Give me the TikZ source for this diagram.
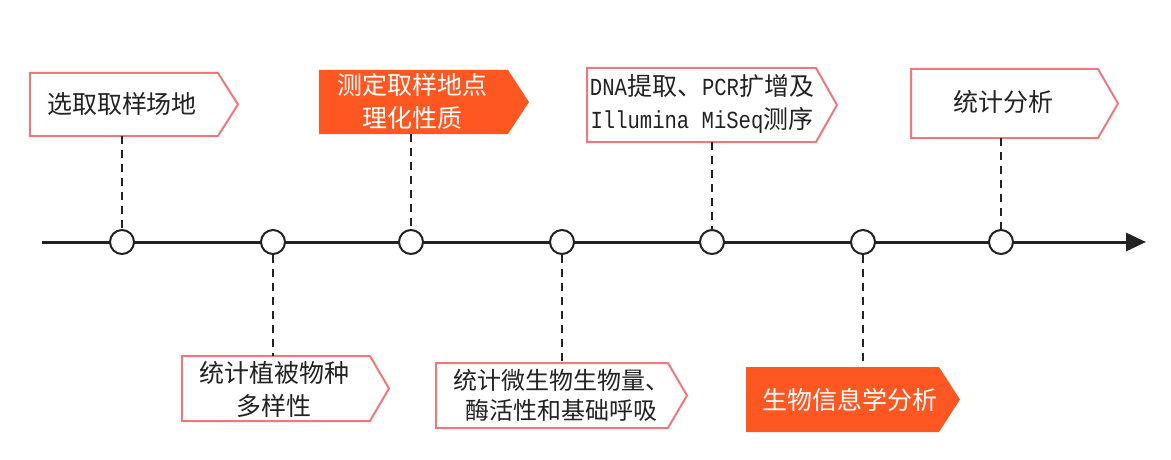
\documentclass[tikz,border=0pt]{standalone}
\usepackage{fontspec}
\newfontfamily\cjk{Noto Sans CJK SC}
\newfontfamily\monof[FakeStretch=0.84]{Liberation Mono}
\newcommand\latmono[1]{{\monof\fontsize{24.5}{33}\selectfont #1}}
\usetikzlibrary{arrows.meta,calc}
\definecolor{pinkline}{RGB}{240,120,125}
\definecolor{orangefill}{RGB}{255,87,34}
\definecolor{inkc}{RGB}{34,34,34}
\begin{document}
\begin{tikzpicture}[x=1pt,y=-1pt,
  frame/.style={draw=none,fill=none,inner sep=0pt,outer sep=0pt},
  txt/.style={font=\cjk\fontsize{25}{33}\selectfont, text=inkc, align=center, inner sep=0pt},
  wtxt/.style={txt, text=white},
  dot/.style={circle, draw=inkc, fill=white, line width=2pt, minimum size=24pt, inner sep=0pt},
  link/.style={draw=inkc, line width=2pt, dash pattern=on 8pt off 6pt},
  outl/.style={draw=pinkline, line width=2pt, fill=white},
  solidbox/.style={fill=orangefill, draw=none}]
\useasboundingbox (0,0) rectangle (1171,460);

% timeline
\coordinate (ts) at (42,242);
\coordinate (te) at (1146,242);
\draw[inkc, line width=3pt, -{Triangle[length=20pt,width=18pt]}] (ts) -- (te);

% box frames
\node[frame, minimum width=188pt, minimum height=63pt] (b1) at (124,104.5) {};
\node[frame, minimum width=188pt, minimum height=65pt] (b2) at (276,388.5) {};
\node[frame, minimum width=189pt, minimum height=64pt] (b3) at (413.5,102) {};
\node[frame, minimum width=229pt, minimum height=74pt] (b4) at (701.5,105) {};
\node[frame, minimum width=232pt, minimum height=65pt] (b5) at (552,395.5) {};
\node[frame, minimum width=193pt, minimum height=65pt] (b6) at (842.5,399.5) {};
\node[frame, minimum width=187pt, minimum height=69pt] (b7) at (1004.5,103.5) {};

\draw[outl] (b1.north west) -- (b1.north east) -- ($(b1.east)+(20,0)$) -- (b1.south east) -- (b1.south west) -- cycle;
\draw[outl] (b2.north west) -- (b2.north east) -- ($(b2.east)+(19,0)$) -- (b2.south east) -- (b2.south west) -- cycle;
\fill[solidbox] (b3.north west) -- (b3.north east) -- ($(b3.east)+(21,0)$) -- (b3.south east) -- (b3.south west) -- cycle;
\draw[outl] (b4.north west) -- (b4.north east) -- ($(b4.east)+(21,0)$) -- (b4.south east) -- (b4.south west) -- cycle;
\draw[outl] (b5.north west) -- (b5.north east) -- ($(b5.east)+(19,0)$) -- (b5.south east) -- (b5.south west) -- cycle;
\fill[solidbox] (b6.north west) -- (b6.north east) -- ($(b6.east)+(21,0)$) -- (b6.south east) -- (b6.south west) -- cycle;
\draw[outl] (b7.north west) -- (b7.north east) -- ($(b7.east)+(20,0)$) -- (b7.south east) -- (b7.south west) -- cycle;

% texts
\node[txt]  (t1) at (122,104) {选取取样场地};
\node[txt]  (t2) at (274,389) {统计植被物种\\多样性};
\node[wtxt] (t3) at (412,101) {测定取样地点\\理化性质};
\node[txt]  (t4) at (702,104.5) {\latmono{DNA}提取、\latmono{PCR}扩增及\\\latmono{Illumina MiSeq}测序};
\node[txt, font=\cjk\fontsize{24}{30}\selectfont] (t5) at (561,395) {统计微生物生物量、\\酶活性和基础呼吸};
\node[wtxt] (t6) at (850,400) {生物信息学分析};
\node[txt]  (t7) at (1003,102) {统计分析};

% timeline points
\node[dot] (c1) at (122,242) {};
\node[dot] (c2) at (273,242) {};
\node[dot] (c3) at (411,242) {};
\node[dot] (c4) at (562,242) {};
\node[dot] (c5) at (712,242) {};
\node[dot] (c6) at (863,242) {};
\node[dot] (c7) at (1001,242) {};

% dashed connectors
\draw[link] (b1.south -| c1) -- (c1.north);
\draw[link] (c2.south) -- (c2 |- b2.north);
\draw[link] (b3.south -| c3) -- (c3.north);
\draw[link] (c4.south) -- (c4 |- b5.north);
\draw[link] (b4.south -| c5) -- (c5.north);
\draw[link] (c6.south) -- (c6 |- b6.north);
\draw[link] (b7.south -| c7) -- (c7.north);
\end{tikzpicture}
\end{document}
